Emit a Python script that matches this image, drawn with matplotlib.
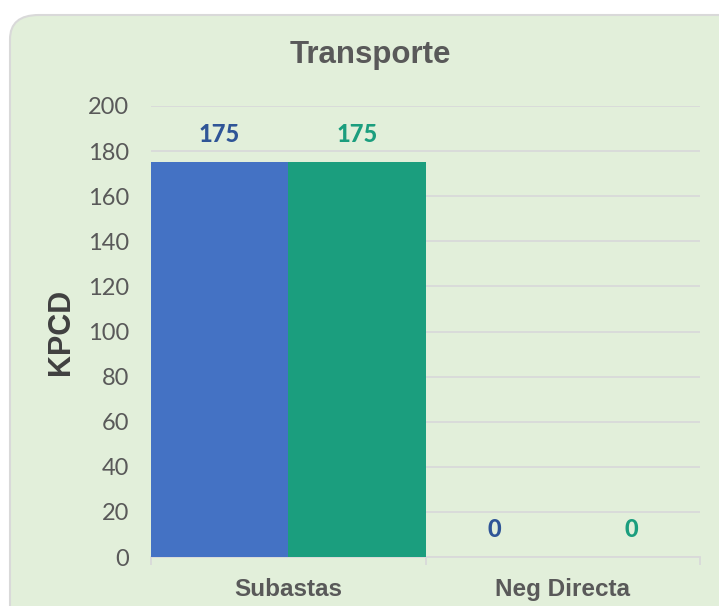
import matplotlib.pyplot as plt
from matplotlib.patches import FancyBboxPatch
import numpy as np

categories = ["Subastas", "Neg Directa"]
serie_a = [175, 0]
serie_b = [175, 0]
yticks = [0, 20, 40, 60, 80, 100, 120, 140, 160, 180, 200]

blue = "#4472C4"
green = "#1B9E7E"
grey_txt = "#595959"
grid_col = "#D9D9D9"

fig = plt.figure(figsize=(7.19, 6.06), dpi=100)
fig.patch.set_facecolor("white")

# rounded green card behind everything
box = FancyBboxPatch((10 / 719, -0.1), 1.2, (606 - 15) / 606 + 0.1,
                     boxstyle="round,pad=0,rounding_size=0.04",
                     transform=fig.transFigure, facecolor="#E2EFDA",
                     edgecolor=grid_col, linewidth=1.5, zorder=-10)
fig.patches.append(box)

ax = fig.add_axes([151 / 719, 49 / 606, 549 / 719, 451 / 606])
ax.set_facecolor("none")

x = np.arange(len(categories))
w = 0.5
bars_a = ax.bar(x - w / 2, serie_a, w, color=blue, zorder=3)
bars_b = ax.bar(x + w / 2, serie_b, w, color=green, zorder=3)

ax.set_xlim(-0.5, 1.5)
ax.set_ylim(0, 200)
ax.set_yticks(yticks)
ax.yaxis.grid(True, color=grid_col, linewidth=1.3, zorder=0)
ax.set_axisbelow(True)

for s in ["top", "right", "left"]:
    ax.spines[s].set_visible(False)
ax.spines["bottom"].set_color(grid_col)
ax.spines["bottom"].set_linewidth(1.3)

ax.set_xticks(x)
ax.set_xticklabels(categories, fontfamily="Liberation Sans", fontweight="bold",
                   fontsize=17.5, color=grey_txt)
ax.set_xticks([-0.5, 0.5, 1.5], minor=True)
ax.tick_params(axis="x", which="major", length=0, pad=15)
ax.tick_params(axis="x", which="minor", length=6, color=grid_col, width=1.3)
ax.tick_params(axis="y", length=0, pad=16, labelsize=17, labelcolor=grey_txt)
for lbl in ax.get_yticklabels():
    lbl.set_fontfamily("Lato")

ax.set_ylabel("KPCD", fontfamily="Liberation Sans", fontweight="bold",
              fontsize=22, color="#404040", labelpad=8)

for bars, col in [(bars_a, "#2F5597"), (bars_b, green)]:
    for b in bars:
        h = b.get_height()
        ax.annotate(f"{h:.0f}", (b.get_x() + b.get_width() / 2, h),
                    xytext=(0, 20), textcoords="offset points",
                    ha="center", va="center", fontfamily="Lato",
                    fontweight="black", fontsize=17, color=col)

fig.text(370 / 719, 1 - 55 / 606, "Transporte", ha="center", va="center",
         fontfamily="Liberation Sans", fontweight="bold", fontsize=22.5,
         color=grey_txt)

fig.savefig("out.png", dpi=100, facecolor=fig.get_facecolor())
